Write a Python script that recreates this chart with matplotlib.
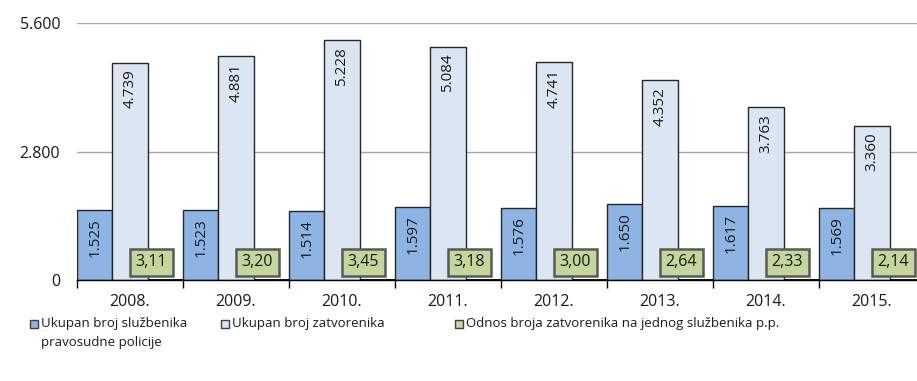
import numpy as np
import matplotlib.pyplot as plt
from matplotlib.ticker import FuncFormatter, FixedLocator
from matplotlib.patches import Rectangle

years = ["2008.", "2009.", "2010.", "2011.", "2012.", "2013.", "2014.", "2015."]
sluzbenici = [1525, 1523, 1514, 1597, 1576, 1650, 1617, 1569]
zatvorenici = [4739, 4881, 5228, 5084, 4741, 4352, 3763, 3360]
odnos = [3.11, 3.20, 3.45, 3.18, 3.00, 2.64, 2.33, 2.14]

labels = ["Ukupan broj službenika\npravosudne policije",
          "Ukupan broj zatvorenika",
          "Odnos broja zatvorenika na jednog službenika p.p."]
colors = ["#8EB4E3", "#DCE6F2", "#C3D69B"]

plt.rcParams["font.family"] = ["Open Sans", "DejaVu Sans"]

W, H = 917, 381
fig = plt.figure(figsize=(W / 100, H / 100), dpi=100)
ax = fig.add_axes([77 / W, 101 / H, 848 / W, 257 / H])

x = np.arange(len(years))
w = 1 / 3
ax.bar(x - w, sluzbenici, w, color=colors[0], edgecolor="#262626", linewidth=1.0, zorder=2)
ax.bar(x, zatvorenici, w, color=colors[1], edgecolor="#262626", linewidth=1.0, zorder=2)
ax.bar(x + w, odnos, w, color=colors[2], edgecolor="black", linewidth=2.0, zorder=2)


def fmt_int(v):
    return f"{v:,}".replace(",", ".")


for xi, v in zip(x - w, sluzbenici):
    ax.annotate(fmt_int(v), (xi, v), xytext=(0, -6), textcoords="offset points",
                rotation=90, ha="center", va="top", fontsize=11, color="#1a1a1a", zorder=3)
for xi, v in zip(x, zatvorenici):
    ax.annotate(fmt_int(v), (xi, v), xytext=(0, -5), textcoords="offset points",
                rotation=90, ha="center", va="top", fontsize=11, color="#1a1a1a", zorder=3)
for xi, v in zip(x, odnos):
    ax.text(xi + 0.2, 390, f"{v:.2f}".replace(".", ","), ha="center", va="center",
            fontsize=11.5, color="#1a1a1a", zorder=4,
            bbox=dict(boxstyle="square,pad=0.35", fc=colors[2], ec="#595959", lw=1.8))

ax.set_xlim(-0.5, len(years) - 0.5)
ax.set_ylim(0, 5600)
ax.yaxis.set_major_locator(FixedLocator([0, 2800, 5600]))
ax.yaxis.set_major_formatter(FuncFormatter(lambda v, p: fmt_int(int(v))))
ax.grid(axis="y", color="#A6A6A6", linewidth=1.0, zorder=0)
ax.set_axisbelow(True)

ax.set_xticks(x)
ax.set_xticklabels(years)
ax.set_xticks(np.arange(len(years)) - 0.5, minor=True)
ax.tick_params(axis="x", which="major", length=0, pad=10, labelsize=11.5, colors="#1a1a1a")
ax.tick_params(axis="x", which="minor", length=6, width=1, color="black")
ax.tick_params(axis="y", length=0, pad=12, labelsize=11.5, labelcolor="#1a1a1a")

for s in ["top", "right", "left"]:
    ax.spines[s].set_visible(False)
ax.spines["bottom"].set_color("black")
ax.spines["bottom"].set_linewidth(1.0)

# legend drawn by hand: equal-width columns, swatch beside the first text line
legend_x = [30, 221, 455]
for lx, lab, c in zip(legend_x, labels, colors):
    fig.patches.append(Rectangle((lx / W, (H - 328) / H), 8 / W, 8 / H,
                                 transform=fig.transFigure, facecolor=c,
                                 edgecolor="#404040", linewidth=1.0))
    fig.text((lx + 11) / W, (H - 317) / H, lab, ha="left", va="top",
             fontsize=9.5, color="#1a1a1a", linespacing=1.6)

fig.savefig("out.png", dpi=100)
